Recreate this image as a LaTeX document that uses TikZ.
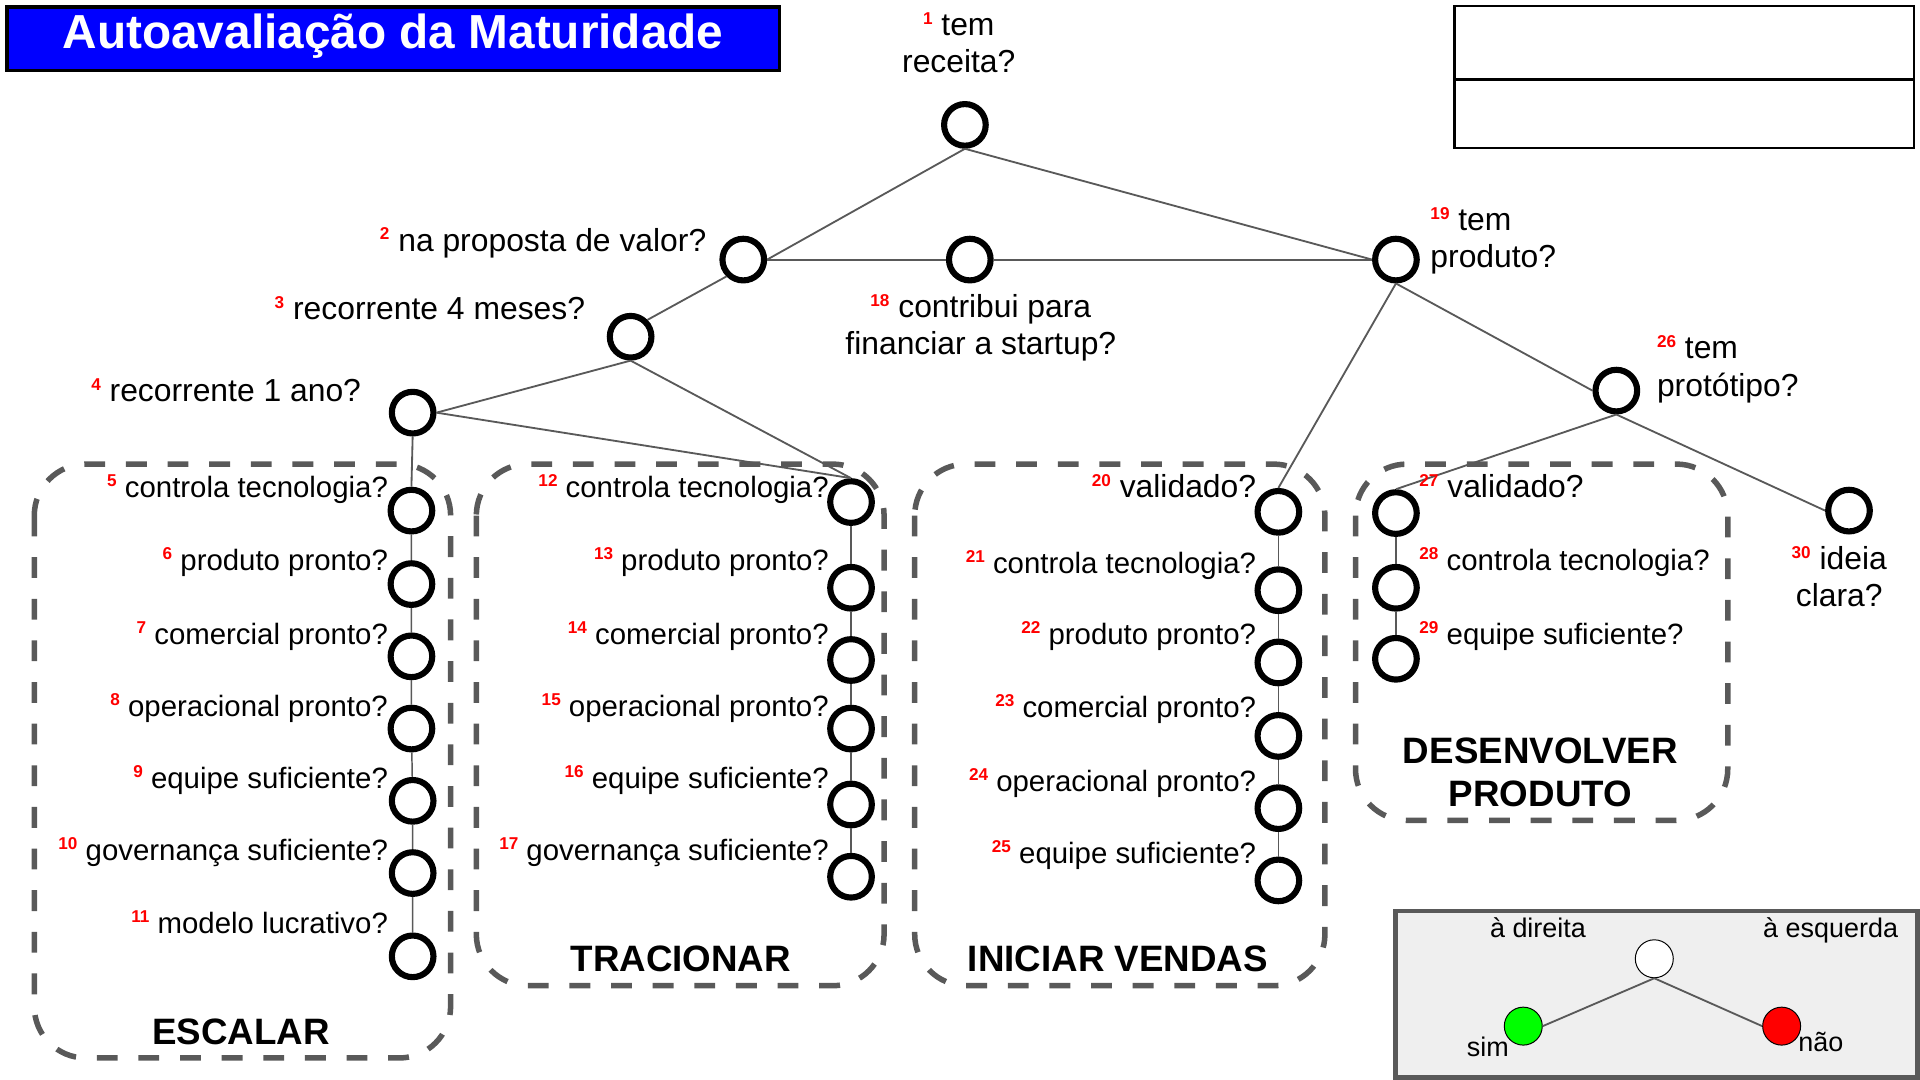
\documentclass[tikz,border=0pt]{standalone}
\usepackage{fontspec}
\setmainfont{Liberation Sans}
\definecolor{edgegray}{HTML}{595959}
\definecolor{legendbg}{HTML}{EFEFEF}
\definecolor{simgreen}{HTML}{00FF00}
\definecolor{naored}{HTML}{FF0000}
\definecolor{titleblue}{HTML}{0000FF}
\newcommand{\qn}[1]{\raisebox{9pt}{\fontsize{14}{14}\selectfont\bfseries\color{naored}#1}}

\tikzset{
  q/.style={circle, draw=black, line width=5pt, fill=white, minimum size=34pt, inner sep=0pt},
  qtext/.style={font=\fontsize{24}{30.5}\selectfont, inner sep=0pt, text=black},
  qtop/.style={font=\fontsize{26}{30.5}\selectfont, inner sep=0pt, text=black},
  edge/.style={draw=edgegray, line width=1.5pt},
  chain/.style={draw=edgegray, line width=1.2pt},
  phase/.style={draw=edgegray, line width=4.5pt, dash pattern=on 17pt off 17pt, rounded corners=42pt},
  phasename/.style={font=\fontsize{30}{35}\selectfont\bfseries, inner sep=0pt, align=center},
  legtext/.style={font=\fontsize{22}{26}\selectfont, inner sep=0pt},
}

\begin{document}
\begin{tikzpicture}[x=1pt, y=-1pt]
    \useasboundingbox (0,0) rectangle (1568,882);

    \draw[draw=black, line width=3pt, fill=titleblue] (5.5,5.5) rectangle (636.5,57.5);
    \node[anchor=base, inner sep=0pt, text=white, font=\fontsize{39}{44}\selectfont\bfseries] (title) at (321,40) {Autoavaliação da Maturidade};

    \draw[line width=2pt] (1188,5) rectangle (1563,121);
    \draw[line width=2pt] (1188,65) -- (1563,65);

    \draw[phase] (28,379) rectangle (368,864);
    \draw[phase] (389,379) rectangle (722,805);
    \draw[phase] (747,379) rectangle (1082,805);
    \draw[phase] (1107,379) rectangle (1411,670);

    \node[q] (n1) at (788,102) {};
    \node[q] (n2) at (607,212) {};
    \node[q] (n3) at (515,275) {};
    \node[q] (n4) at (337,337) {};
    \node[q] (n18) at (792,212) {};
    \node[q] (n19) at (1140,212) {};
    \node[q] (n26) at (1320,319) {};
    \node[q] (n30) at (1510,417) {};

    \node[q] (n5) at (336,417) {};
    \node[q] (n6) at (336,477) {};
    \node[q] (n7) at (336,536) {};
    \node[q] (n8) at (336,595) {};
    \node[q] (n9) at (337,654) {};
    \node[q] (n10) at (337,713) {};
    \node[q] (n11) at (337,781) {};

    \node[q] (n12) at (695,410) {};
    \node[q] (n13) at (695,480) {};
    \node[q] (n14) at (695,539) {};
    \node[q] (n15) at (695,595) {};
    \node[q] (n16) at (695,657) {};
    \node[q] (n17) at (695,716) {};

    \node[q] (n20) at (1044,418) {};
    \node[q] (n21) at (1044,482) {};
    \node[q] (n22) at (1044,541) {};
    \node[q] (n23) at (1044,601) {};
    \node[q] (n24) at (1044,660) {};
    \node[q] (n25) at (1044,719) {};

    \node[q] (n27) at (1140,419) {};
    \node[q] (n28) at (1140,480) {};
    \node[q] (n29) at (1140,538) {};

    \draw[edge] (n1.south) -- (n2.east);
    \draw[edge] (n1.south) -- (n19.west);
    \draw[edge] (n2.east) -- (n18.west);
    \draw[edge] (n18.east) -- (n19.west);
    \draw[edge] (n2.south west) -- (n3.north east);
    \draw[edge] (n3.south) -- (n4.east);
    \draw[edge] (n3.south) -- (n12.north);
    \draw[edge] (n4.east) -- (n12.north);
    \draw[edge] (n4.south) -- (n5.north);
    \draw[edge] (n19.south) -- (n20.north);
    \draw[edge] (n19.south) -- (n26.west);
    \draw[edge] (n26.south) -- (n27.north);
    \draw[edge] (n26.south) -- (n30.west);

    \draw[chain] (n5) -- (n6) -- (n7) -- (n8) -- (n9) -- (n10) -- (n11);
    \draw[chain] (n12) -- (n13) -- (n14) -- (n15) -- (n16) -- (n17);
    \draw[chain] (n20) -- (n21) -- (n22) -- (n23) -- (n24) -- (n25);
    \draw[chain] (n27) -- (n28) -- (n29);

    \node[qtop, align=center] (l1) at (783,35) {\qn{1} tem\\receita?};
    \node[qtop, anchor=base east] (l2) at (577,205) {\qn{2} na proposta de valor?};
    \node[qtop, anchor=base east] (l3) at (478,261) {\qn{3} recorrente 4 meses?};
    \node[qtop, anchor=base east] (l4) at (295,328) {\qn{4} recorrente 1 ano?};
    \node[qtop, align=center] (l18) at (801,267.5) {\qn{18} contribui para\\financiar a startup?};
    \node[qtop, align=left, anchor=west] (l19) at (1168,196.5) {\qn{19} tem\\produto?};
    \node[qtop, align=left, anchor=west] (l26) at (1353,301.5) {\qn{26} tem\\protótipo?};
    \node[qtop, align=center] (l30) at (1502,471) {\qn{30} ideia\\clara?};

    \node[qtext, anchor=base east] (l5) at (317,406) {\qn{5} controla tecnologia?};
    \node[qtext, anchor=base east] (l6) at (317,466) {\qn{6} produto pronto?};
    \node[qtext, anchor=base east] (l7) at (317,526) {\qn{7} comercial pronto?};
    \node[qtext, anchor=base east] (l8) at (317,585) {\qn{8} operacional pronto?};
    \node[qtext, anchor=base east] (l9) at (317,644) {\qn{9} equipe suficiente?};
    \node[qtext, anchor=base east] (l10) at (317,703) {\qn{10} governança suficiente?};
    \node[qtext, anchor=base east] (l11) at (317,762) {\qn{11} modelo lucrativo?};

    \node[qtext, anchor=base east] (l12) at (677,406) {\qn{12} controla tecnologia?};
    \node[qtext, anchor=base east] (l13) at (677,466) {\qn{13} produto pronto?};
    \node[qtext, anchor=base east] (l14) at (677,526) {\qn{14} comercial pronto?};
    \node[qtext, anchor=base east] (l15) at (677,585) {\qn{15} operacional pronto?};
    \node[qtext, anchor=base east] (l16) at (677,644) {\qn{16} equipe suficiente?};
    \node[qtext, anchor=base east] (l17) at (677,703) {\qn{17} governança suficiente?};

    \node[qtop, anchor=base east] (l20) at (1026,406) {\qn{20} validado?};
    \node[qtext, anchor=base east] (l21) at (1026,468) {\qn{21} controla tecnologia?};
    \node[qtext, anchor=base east] (l22) at (1026,526) {\qn{22} produto pronto?};
    \node[qtext, anchor=base east] (l23) at (1026,586) {\qn{23} comercial pronto?};
    \node[qtext, anchor=base east] (l24) at (1026,646) {\qn{24} operacional pronto?};
    \node[qtext, anchor=base east] (l25) at (1026,705) {\qn{25} equipe suficiente?};

    \node[qtop, anchor=base west] (l27) at (1159,406) {\qn{27} validado?};
    \node[qtext, anchor=base west] (l28) at (1159,466) {\qn{28} controla tecnologia?};
    \node[qtext, anchor=base west] (l29) at (1159,526) {\qn{29} equipe suficiente?};

    \node[phasename, anchor=base] (escalar) at (197,853) {ESCALAR};
    \node[phasename, anchor=base] (tracionar) at (556,793) {TRACIONAR};
    \node[phasename, anchor=base] (vendas) at (913,793) {INICIAR VENDAS};
    \node[phasename] (desenvolver) at (1258,630.5) {DESENVOLVER\\PRODUTO};

    \draw[draw=edgegray, line width=4pt, fill=legendbg] (1140,744) rectangle (1566,880);
    \node[circle, draw=black, line width=0.8pt, fill=white, minimum size=31pt, inner sep=0pt] (lq) at (1351,783) {};
    \node[circle, draw=black, line width=0.8pt, fill=simgreen, minimum size=31pt, inner sep=0pt] (lsim) at (1244,838) {};
    \node[circle, draw=black, line width=0.8pt, fill=naored, minimum size=31pt, inner sep=0pt] (lnao) at (1455,838) {};
    \draw[edge] (lq.south) -- (lsim.east);
    \draw[edge] (lq.south) -- (lnao.west);
    \node[legtext, anchor=base] (ldir) at (1256,766) {à direita};
    \node[legtext, anchor=base] (lesq) at (1495,766) {à esquerda};
    \node[legtext, anchor=base] (lsimtxt) at (1215,863) {sim};
    \node[legtext, anchor=base] (lnaotxt) at (1487,859) {não};
\end{tikzpicture}
\end{document}
